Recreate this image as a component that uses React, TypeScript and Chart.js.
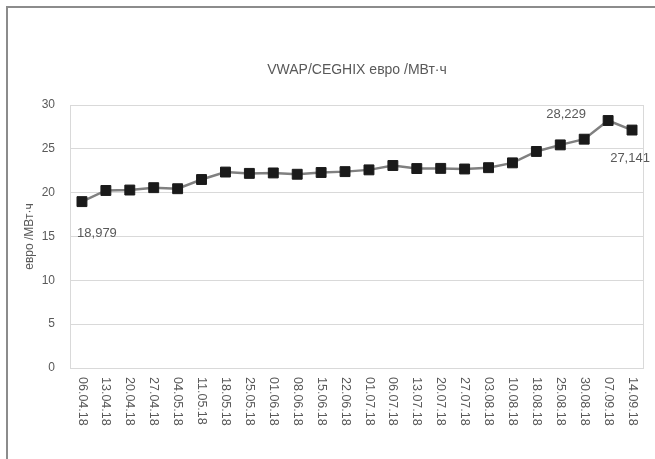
import React, { useEffect, useRef } from "react";
import { Chart, registerables } from "chart.js";

Chart.register(...registerables);

const categories = [
  "06.04.18", "13.04.18", "20.04.18", "27.04.18", "04.05.18", "11.05.18",
  "18.05.18", "25.05.18", "01.06.18", "08.06.18", "15.06.18", "22.06.18",
  "01.07.18", "06.07.18", "13.07.18", "20.07.18", "27.07.18", "03.08.18",
  "10.08.18", "18.08.18", "25.08.18", "30.08.18", "07.09.18", "14.09.18",
];

const vwap = [
  18.979, 20.25, 20.3, 20.57, 20.45, 21.5, 22.35, 22.2, 22.25, 22.1, 22.3, 22.4,
  22.6, 23.1, 22.75, 22.77, 22.7, 22.85, 23.4, 24.7, 25.45, 26.1, 28.229, 27.141,
];

const labeledIndices = [0, 22, 23];

const titleText = "VWAP/CEGHIX евро /МВт·ч";
const yAxisTitle = "евро /МВт·ч";

const FONT = "'Liberation Sans', Arial, sans-serif";
const TEXT = "#595959";

// label offsets (pixels) relative to their point
const labelOffsets: Record<number, [number, number]> = {
  0: [15, 32],
  22: [-42, -6],
  23: [-2, 28],
};

const fmt = (v: number) => v.toFixed(3).replace(".", ",");

const customDraw = {
  id: "customDraw",
  beforeDatasetsDraw(chart: any) {
    const { ctx, chartArea: a } = chart;
    ctx.save();
    ctx.strokeStyle = "#d9d9d9";
    ctx.lineWidth = 1;
    ctx.beginPath();
    ctx.moveTo(Math.round(a.left) + 0.5, a.top);
    ctx.lineTo(Math.round(a.left) + 0.5, a.bottom);
    ctx.moveTo(Math.round(a.right) - 0.5, a.top);
    ctx.lineTo(Math.round(a.right) - 0.5, a.bottom);
    ctx.stroke();
    ctx.restore();
  },
  afterDraw(chart: any) {
    const { ctx, chartArea: a } = chart;
    const xs = chart.scales.x;
    ctx.save();
    ctx.fillStyle = TEXT;
    ctx.font = `12.5px ${FONT}`;
    ctx.textAlign = "left";
    ctx.textBaseline = "middle";
    categories.forEach((c, i) => {
      const x = xs.getPixelForValue(i);
      ctx.save();
      ctx.translate(x, a.bottom + 9);
      ctx.rotate(Math.PI / 2);
      ctx.fillText(c, 0, 0);
      ctx.restore();
    });
    const meta = chart.getDatasetMeta(0);
    ctx.font = `13px ${FONT}`;
    ctx.textAlign = "center";
    labeledIndices.forEach((i) => {
      const pt = meta.data[i];
      const [dx, dy] = labelOffsets[i];
      ctx.fillText(fmt(vwap[i]), pt.x + dx, pt.y + dy);
    });
    ctx.restore();
  },
};

export default function App() {
  const ref = useRef<HTMLCanvasElement>(null);
  useEffect(() => {
    if (!ref.current) return;
    const chart = new Chart(ref.current, {
      type: "line",
      data: {
        labels: categories,
        datasets: [
          {
            data: vwap,
            borderColor: "#808080",
            borderWidth: 2.5,
            pointStyle: "rect",
            pointRadius: 7,
            pointBackgroundColor: "#1a1a1a",
            pointBorderColor: "#1a1a1a",
            pointBorderWidth: 1,
            tension: 0,
          },
        ],
      },
      options: {
        animation: false,
        responsive: false,
        devicePixelRatio: 1,
        layout: { padding: { left: 0, right: 11, top: 0, bottom: 0 } },
        plugins: {
          legend: { display: false },
          tooltip: { enabled: false },
          title: {
            display: true,
            text: titleText,
            fullSize: false,
            color: TEXT,
            font: { family: FONT, size: 14, weight: "normal" },
            padding: { top: 61.6, bottom: 26.6 },
          },
        },
        scales: {
          x: {
            type: "category",
            offset: true,
            grid: { display: false, drawTicks: false },
            border: { display: false },
            ticks: { display: false },
            afterFit: (s: any) => {
              s.height = 91;
            },
          },
          y: {
            min: 0,
            max: 30,
            ticks: {
              stepSize: 5,
              padding: 15,
              color: TEXT,
              font: { family: FONT, size: 12 },
            },
            grid: { color: "#d9d9d9", lineWidth: 1, drawTicks: false },
            border: { display: false },
            title: {
              display: true,
              text: yAxisTitle,
              color: TEXT,
              font: { family: FONT, size: 12 },
              padding: { top: 22.8, bottom: 0 },
            },
            afterFit: (s: any) => {
              s.width = 70;
            },
          },
        },
      },
      plugins: [customDraw],
    });
    return () => chart.destroy();
  }, []);

  return (
    <div style={{ position: "fixed", left: 0, top: 0, width: 655, height: 459, background: "#fff" }}>
      <canvas ref={ref} width={655} height={459} style={{ display: "block" }} />
      <div
        style={{
          position: "absolute",
          left: 6,
          top: 6,
          width: 649,
          height: 453,
          borderTop: "2px solid #8c8c8c",
          borderLeft: "2px solid #8c8c8c",
          boxSizing: "border-box",
          pointerEvents: "none",
        }}
      />
    </div>
  );
}
